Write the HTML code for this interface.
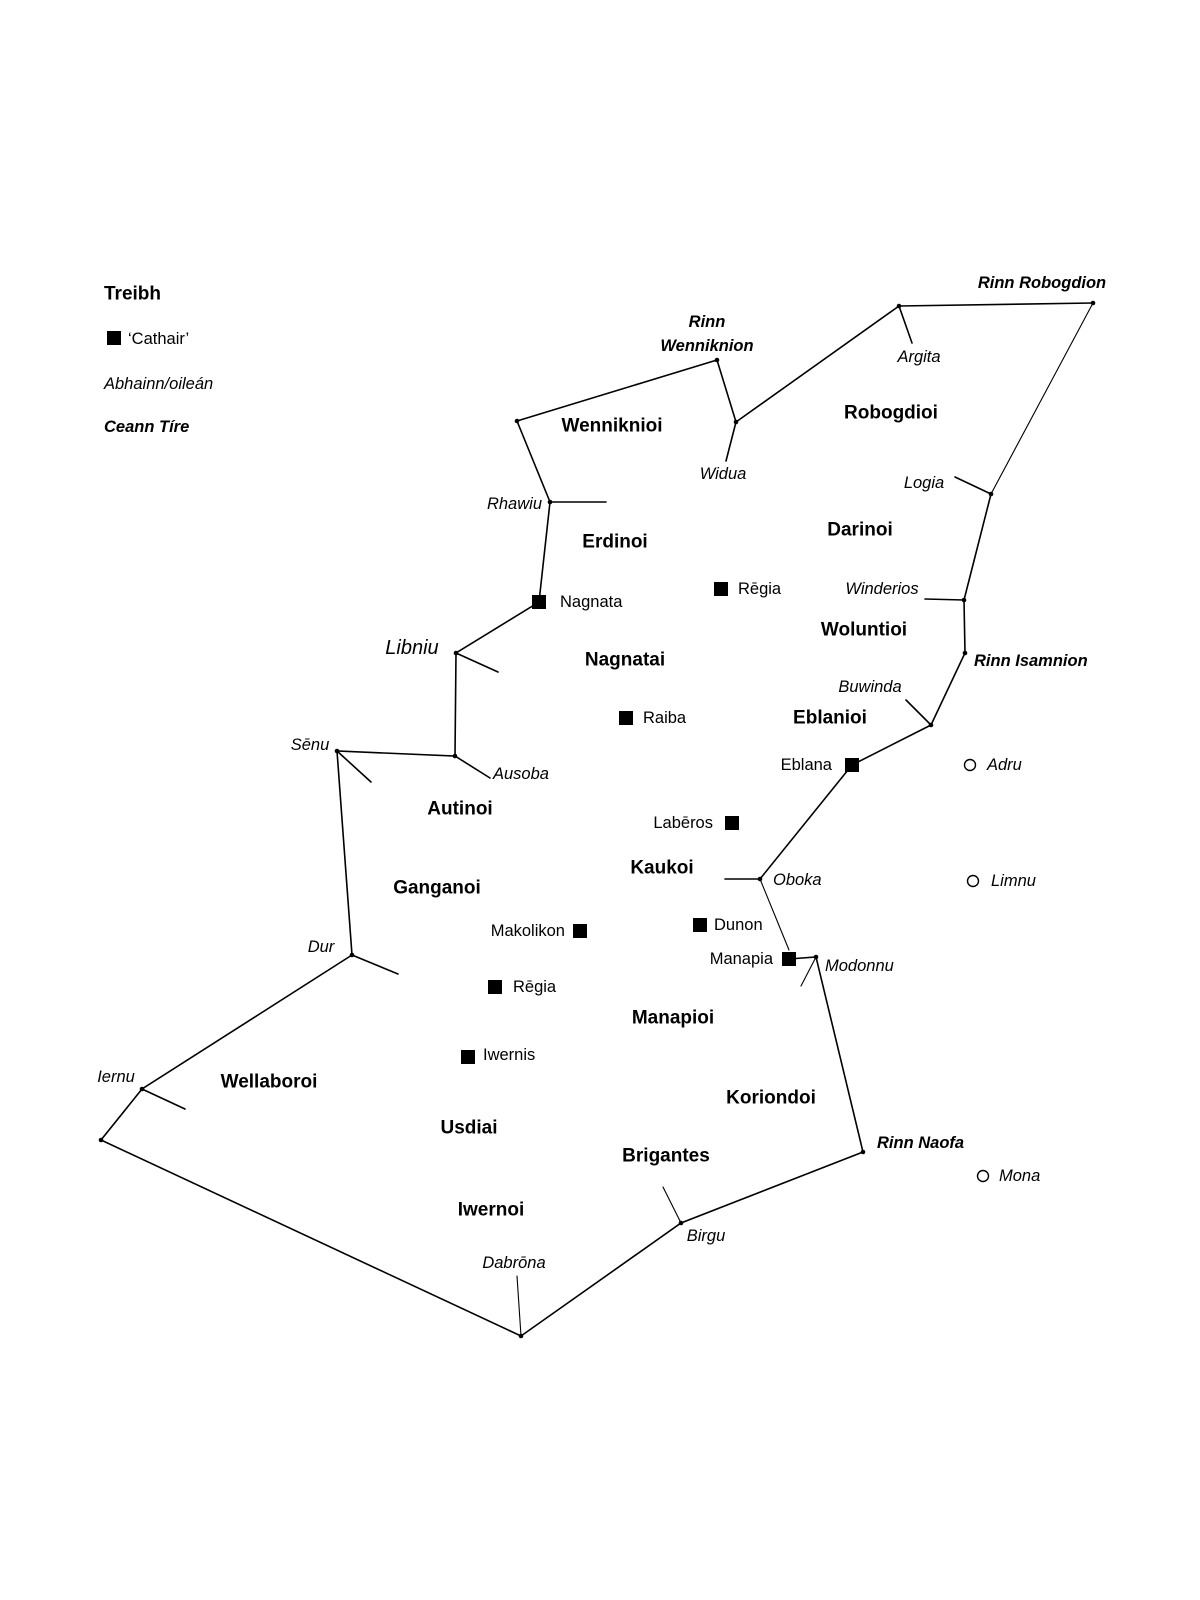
<!DOCTYPE html>
<html><head><meta charset="utf-8"><style>
html,body{margin:0;padding:0;background:#fff;}
svg{display:block;}
text{font-family:"Liberation Sans",sans-serif;fill:#000;dominant-baseline:central;}
.t{font-weight:bold;font-size:19px;text-anchor:middle;}
.c{font-size:16.5px;}
.i{font-style:italic;font-size:16.5px;}
.r{font-style:italic;font-weight:bold;font-size:16.5px;}
</style></head><body>
<svg width="1200" height="1600" viewBox="0 0 1200 1600" xmlns="http://www.w3.org/2000/svg">
<g stroke="#000" stroke-width="1.6" fill="none" stroke-linecap="round">
<polyline points="1093,303 899,306 736,422 717,360 517,421 550,502 539,602 456,653 455,756 337,751 352,955 142,1089 101,1140 521,1336 681,1223 863,1152 816,957 789,959"/>
<polyline points="760,879 852,765 931,725 965,653 964,600 991,494"/>
<line x1="991" y1="494" x2="1093" y2="303" stroke-width="1.1"/>
<line x1="760" y1="879" x2="789" y2="950" stroke-width="1.1"/>
<line x1="899" y1="306" x2="912" y2="343"/>
<line x1="736" y1="422" x2="726" y2="461"/>
<line x1="550" y1="502" x2="606" y2="502"/>
<line x1="456" y1="653" x2="498" y2="672"/>
<line x1="455" y1="756" x2="490" y2="778"/>
<line x1="337" y1="751" x2="371" y2="782"/>
<line x1="352" y1="955" x2="398" y2="974"/>
<line x1="142" y1="1089" x2="185" y2="1109"/>
<line x1="521" y1="1336" x2="517" y2="1276" stroke-width="1.1"/>
<line x1="681" y1="1223" x2="663" y2="1187" stroke-width="1.1"/>
<line x1="816" y1="957" x2="801" y2="986" stroke-width="1.1"/>
<line x1="760" y1="879" x2="725" y2="879"/>
<line x1="931" y1="725" x2="906" y2="700"/>
<line x1="964" y1="600" x2="925" y2="599"/>
<line x1="991" y1="494" x2="955" y2="477"/>
</g>
<g fill="#000">
<circle cx="1093" cy="303" r="2.3"/><circle cx="899" cy="306" r="2.3"/><circle cx="736" cy="422" r="2.3"/><circle cx="717" cy="360" r="2.3"/><circle cx="517" cy="421" r="2.3"/><circle cx="550" cy="502" r="2.3"/><circle cx="456" cy="653" r="2.3"/><circle cx="455" cy="756" r="2.3"/><circle cx="337" cy="751" r="2.3"/><circle cx="352" cy="955" r="2.3"/><circle cx="142" cy="1089" r="2.3"/><circle cx="101" cy="1140" r="2.3"/><circle cx="521" cy="1336" r="2.3"/><circle cx="681" cy="1223" r="2.3"/><circle cx="863" cy="1152" r="2.3"/><circle cx="816" cy="957" r="2.3"/><circle cx="760" cy="879" r="2.3"/><circle cx="931" cy="725" r="2.3"/><circle cx="965" cy="653" r="2.3"/><circle cx="964" cy="600" r="2.3"/><circle cx="991" cy="494" r="2.3"/>
<rect x="107" y="331" width="14" height="14"/>
<rect x="714" y="582" width="14" height="14"/>
<rect x="532" y="595" width="14" height="14"/>
<rect x="619" y="711" width="14" height="14"/>
<rect x="845" y="758" width="14" height="14"/>
<rect x="725" y="816" width="14" height="14"/>
<rect x="573" y="924" width="14" height="14"/>
<rect x="693" y="918" width="14" height="14"/>
<rect x="782" y="952" width="14" height="14"/>
<rect x="488" y="980" width="14" height="14"/>
<rect x="461" y="1050" width="14" height="14"/>
</g>
<g fill="none" stroke="#000" stroke-width="1.4">
<circle cx="970" cy="765" r="5.5"/><circle cx="973" cy="881" r="5.5"/><circle cx="983" cy="1176" r="5.5"/>
</g>
<text x="104" y="294" style="font-weight:bold;font-size:19px">Treibh</text>
<text x="128" y="339" class="c">‘Cathair’</text>
<text x="104" y="384" class="i">Abhainn/oileán</text>
<text x="104" y="427" class="r">Ceann Tíre</text>

<text class="t" x="612" y="426">Wenniknioi</text>
<text class="t" x="891" y="413">Robogdioi</text>
<text class="t" x="615" y="542">Erdinoi</text>
<text class="t" x="860" y="530">Darinoi</text>
<text class="t" x="864" y="630">Woluntioi</text>
<text class="t" x="625" y="660">Nagnatai</text>
<text class="t" x="830" y="718">Eblanioi</text>
<text class="t" x="460" y="809">Autinoi</text>
<text class="t" x="662" y="868">Kaukoi</text>
<text class="t" x="437" y="888">Ganganoi</text>
<text class="t" x="673" y="1018">Manapioi</text>
<text class="t" x="269" y="1082">Wellaboroi</text>
<text class="t" x="771" y="1098">Koriondoi</text>
<text class="t" x="469" y="1128">Usdiai</text>
<text class="t" x="666" y="1156">Brigantes</text>
<text class="t" x="491" y="1210">Iwernoi</text>

<text class="c" x="738" y="589">Rēgia</text>
<text class="c" x="560" y="602">Nagnata</text>
<text class="c" x="643" y="718">Raiba</text>
<text class="c" x="832" y="765" text-anchor="end">Eblana</text>
<text class="c" x="713" y="823" text-anchor="end">Labēros</text>
<text class="c" x="565" y="931" text-anchor="end">Makolikon</text>
<text class="c" x="714" y="925">Dunon</text>
<text class="c" x="773" y="959" text-anchor="end">Manapia</text>
<text class="c" x="513" y="987">Rēgia</text>
<text class="c" x="483" y="1055">Iwernis</text>

<text class="r" x="1042" y="283" text-anchor="middle">Rinn Robogdion</text>
<text class="r" x="707" y="322" text-anchor="middle">Rinn</text>
<text class="r" x="707" y="346" text-anchor="middle">Wenniknion</text>
<text class="i" x="919" y="357" text-anchor="middle">Argita</text>
<text class="i" x="723" y="474" text-anchor="middle">Widua</text>
<text class="i" x="924" y="483" text-anchor="middle">Logia</text>
<text class="i" x="542" y="504" text-anchor="end">Rhawiu</text>
<text class="i" x="882" y="589" text-anchor="middle">Winderios</text>
<text class="r" x="974" y="661">Rinn Isamnion</text>
<text class="i" x="412" y="648" text-anchor="middle" style="font-size:20px">Libniu</text>
<text class="i" x="870" y="687" text-anchor="middle">Buwinda</text>
<text class="i" x="310" y="745" text-anchor="middle">Sēnu</text>
<text class="i" x="493" y="774">Ausoba</text>
<text class="i" x="987" y="765">Adru</text>
<text class="i" x="773" y="880">Oboka</text>
<text class="i" x="991" y="881">Limnu</text>
<text class="i" x="825" y="966">Modonnu</text>
<text class="i" x="321" y="947" text-anchor="middle">Dur</text>
<text class="i" x="116" y="1077" text-anchor="middle">Iernu</text>
<text class="r" x="877" y="1143">Rinn Naofa</text>
<text class="i" x="999" y="1176">Mona</text>
<text class="i" x="706" y="1236" text-anchor="middle">Birgu</text>
<text class="i" x="514" y="1263" text-anchor="middle">Dabrōna</text>
</svg>
</body></html>
